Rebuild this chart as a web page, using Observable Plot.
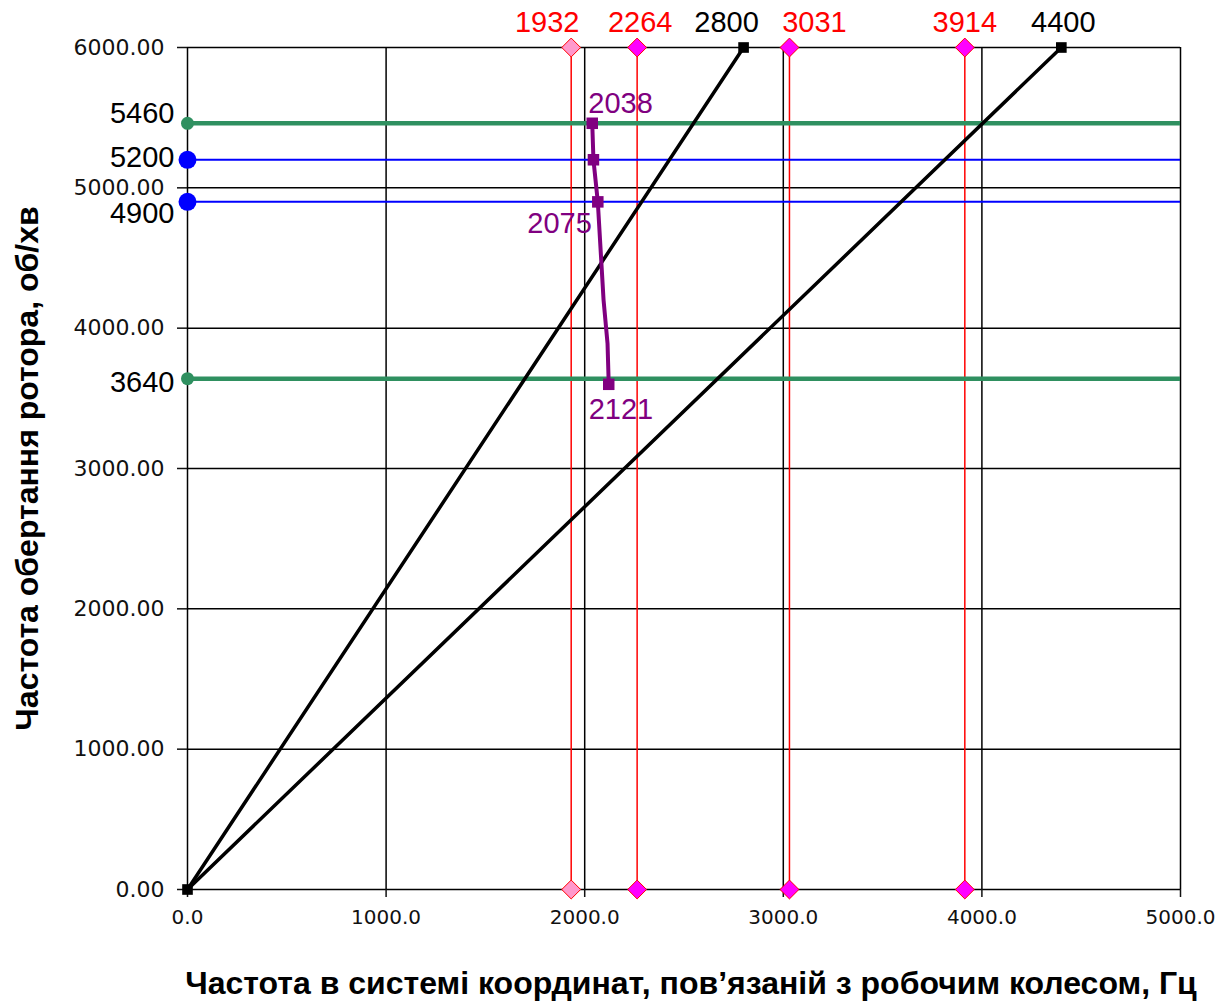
<!DOCTYPE html>
<html>
<head>
<meta charset="utf-8">
<script src="https://cdn.jsdelivr.net/npm/d3@7"></script>
<script src="https://cdn.jsdelivr.net/npm/@observablehq/plot@0.6"></script>
<style>
  html, body { margin: 0; padding: 0; background: #ffffff; }
  #chart svg { display: block; }
</style>
</head>
<body>
<div id="chart"></div>
<script>
// ---- data ----
const xTicks = [0, 1000, 2000, 3000, 4000, 5000];
const yTicks = [0, 1000, 2000, 3000, 4000, 5000, 6000];
const redFreqs = [1932, 2264, 3031, 3914];
const redMarkerFill = ["#ff99cc", "#ff00ff", "#ff00ff", "#ff00ff"];
const diagEnds = [2800, 4400];
const diagTop = 6000;
const greenLevels = [5460, 3640];
const blueLevels = [5200, 4900];
const purpleX = [2038, 2044, 2066, 2095, 2115, 2121];
const purpleY = [5460, 5200, 4900, 4200, 3890, 3600];
const purpleMarked = [0, 1, 2, 5];
const purpleLabels = ["2038", "2075", "2121"];
const xTitle = "Частота в системі координат, пов’язаній з робочим колесом, Гц";
const yTitle = "Частота обертання ротора, об/хв";

// ---- label nudges (layout only) ----
const redLabelDx = [-24, 3, 25, 0];
const diagLabelDx = [-17, 2];
const levelLabelDy = {5460: -10, 5200: -2, 4900: 12, 3640: 4};

// ---- derived tables ----
const diag = diagEnds.flatMap((e, i) => [{s: i, x: 0, y: 0}, {s: i, x: e, y: diagTop}]);
const diagMarks = [{x: 0, y: 0}, ...diagEnds.map(e => ({x: e, y: diagTop}))];
const redTable = redFreqs.map((f, i) => ({f, fill: redMarkerFill[i]}));
const purple = purpleX.map((x, i) => ({x, y: purpleY[i]}));
const purpleSq = purpleMarked.map(i => purple[i]);
const levelLabels = [...greenLevels, ...blueLevels];

const FONT = "'Liberation Sans', Arial, sans-serif";
const TICKFONT = "'DejaVu Sans', sans-serif";
const ANN = 29;

const chart = Plot.plot({
  width: 1227,
  height: 1004,
  marginLeft: 187,
  marginRight: 47,
  marginTop: 47,
  marginBottom: 115,
  style: {fontFamily: TICKFONT, background: "#ffffff", color: "#000"},
  x: {domain: [0, 5000]},
  y: {domain: [0, 6000]},
  marks: [
    Plot.ruleX(xTicks, {stroke: "#000", strokeWidth: 1.5}),
    Plot.ruleY(yTicks, {stroke: "#000", strokeWidth: 1.5}),
    Plot.axisX({ticks: xTicks, tickFormat: d3.format(".1f"), tickSize: 8, tickPadding: 12,
      fontSize: 20, color: "#111", strokeWidth: 1.5, label: null}),
    Plot.axisY({ticks: yTicks, tickFormat: d3.format(".2f"), tickSize: 10, tickPadding: 13,
      fontSize: 22, color: "#111", strokeWidth: 1.5, label: null}),
    Plot.ruleX(redFreqs, {stroke: "#ff0000", strokeWidth: 1.5}),
    Plot.ruleY(greenLevels, {stroke: "#2f9060", strokeWidth: 4.5}),
    Plot.ruleY(blueLevels, {stroke: "#0000ff", strokeWidth: 2}),
    Plot.dot(greenLevels, {x: 0, y: d => d, r: 6.5, fill: "#2f9060", stroke: "none"}),
    Plot.dot(blueLevels, {x: 0, y: d => d, r: 9, fill: "#0000ff", stroke: "none"}),
    Plot.line(diag, {x: "x", y: "y", z: "s", stroke: "#000", strokeWidth: 3.5}),
    Plot.dot(diagMarks, {x: "x", y: "y", symbol: "square", r: 6, fill: "#000", stroke: "none"}),
    Plot.dot(redTable, {x: "f", y: 0, symbol: "diamond2", r: 8.5, fill: "fill", stroke: "#ff0000", strokeWidth: 1}),
    Plot.dot(redTable, {x: "f", y: 6000, symbol: "diamond2", r: 8.5, fill: "fill", stroke: "#ff0000", strokeWidth: 1}),
    Plot.line(purple, {x: "x", y: "y", stroke: "#800080", strokeWidth: 4}),
    Plot.dot(purpleSq, {x: "x", y: "y", symbol: "square", r: 6.5, fill: "#800080", stroke: "none"}),
    ...redFreqs.map((f, i) => Plot.text([f], {x: d => d, y: 6000, text: d => String(d), dy: -25, dx: redLabelDx[i],
      fill: "#ff0000", fontSize: ANN, fontFamily: FONT})),
    ...diagEnds.map((e, i) => Plot.text([e], {x: d => d, y: 6000, text: d => String(d), dy: -25, dx: diagLabelDx[i],
      fill: "#000", fontSize: ANN, fontFamily: FONT})),
    ...levelLabels.map(v => Plot.text([v], {x: 0, y: d => d, text: d => String(d), dx: -13, dy: levelLabelDy[v],
      textAnchor: "end", fill: "#000", fontSize: ANN, fontFamily: FONT})),
    Plot.text([purple[0]], {x: "x", y: "y", text: [purpleLabels[0]], dx: -4, dy: -20, textAnchor: "start",
      fill: "#800080", fontSize: ANN, fontFamily: FONT}),
    Plot.text([purple[2]], {x: "x", y: "y", text: [purpleLabels[1]], dx: -6, dy: 22, textAnchor: "end",
      fill: "#800080", fontSize: ANN, fontFamily: FONT}),
    Plot.text([purple[5]], {x: "x", y: "y", text: [purpleLabels[2]], dx: -20, dy: 25, textAnchor: "start",
      fill: "#800080", fontSize: ANN, fontFamily: FONT}),
    Plot.text([xTitle], {frameAnchor: "bottom", textAnchor: "middle", lineAnchor: "middle", dx: 7, dy: 94,
      fontSize: 32, fontWeight: "bold", fontFamily: FONT, fill: "#000"}),
    Plot.text([yTitle], {frameAnchor: "left", textAnchor: "middle", lineAnchor: "middle", rotate: -90, dx: -160, dy: 0,
      fontSize: 32, fontWeight: "bold", fontFamily: FONT, fill: "#000"})
  ]
});

document.getElementById("chart").append(chart);
</script>
</body>
</html>
